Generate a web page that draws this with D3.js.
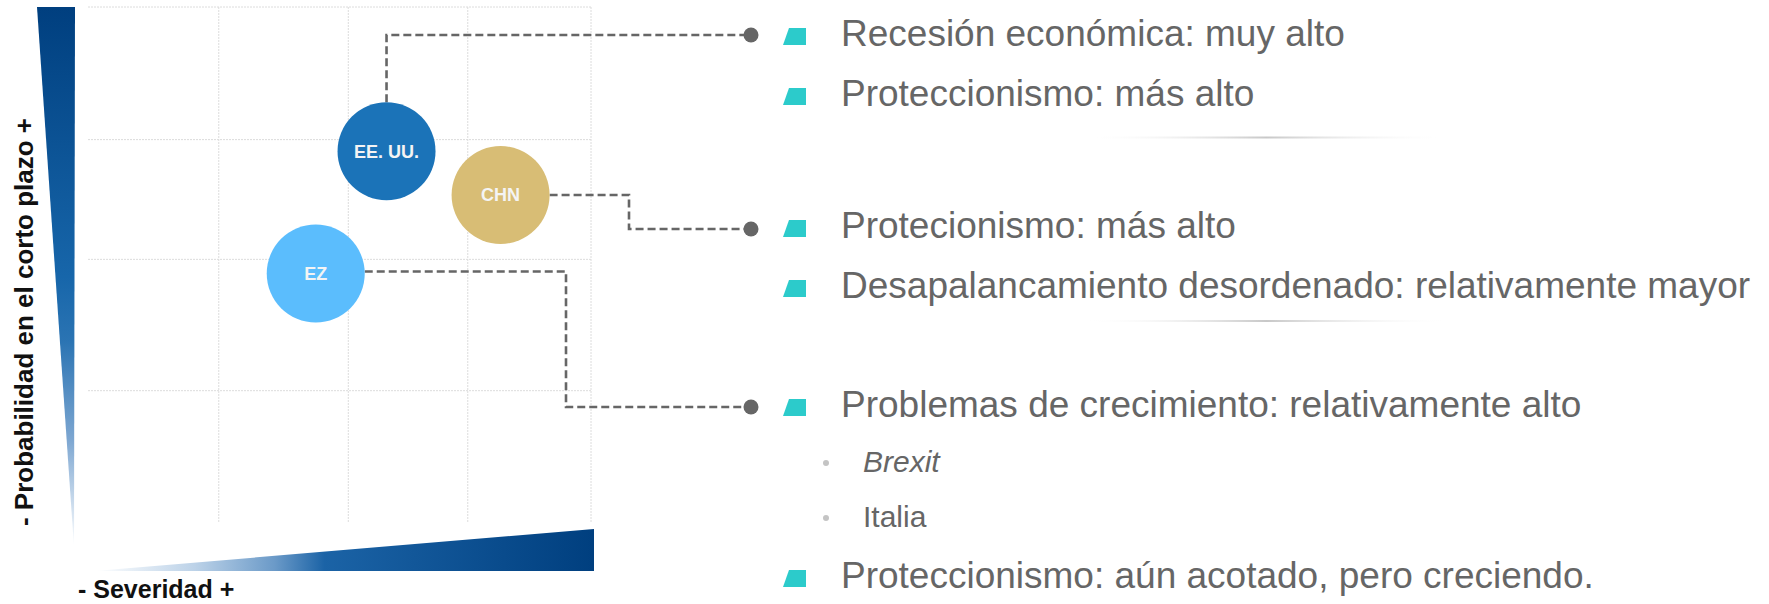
<!DOCTYPE html>
<html>
<head>
<meta charset="utf-8">
<script src="https://cdn.jsdelivr.net/npm/d3@7"></script>
<style>
  html, body { margin: 0; padding: 0; background: #fff; }
  svg { display: block; font-family: "Liberation Sans", Arial, sans-serif; }
</style>
</head>
<body>
<svg id="chart" width="1769" height="604"></svg>
<script>
// datos del mapa de riesgos (unidades de la matriz 0-4)
var paises = ["EE. UU.", "CHN", "EZ"];
var severidad = [2.374, 3.281, 1.811];
var probabilidad = [2.88, 2.54, 1.93];
var colores = ["#1b73b8", "#d8bd75", "#5bbdfd"];

// líneas de la cuadrícula
var gridX = [1.04, 2.07, 3.02, 4];
var gridY = [1.02, 2.04, 2.97, 4];

// textos de riesgos por país
var riesgosEEUU = ["Recesión económica: muy alto", "Proteccionismo: más alto"];
var riesgosCHN = ["Protecionismo: más alto", "Desapalancamiento desordenado: relativamente mayor"];
var riesgosEZ = ["Problemas de crecimiento: relativamente alto", "Proteccionismo: aún acotado, pero creciendo."];
var subRiesgosEZ = ["Brexit", "Italia"];

var svg = d3.select("#chart");

// escalas de la matriz
var x = d3.scaleLinear().domain([0, 4]).range([88, 591]);
var y = d3.scaleLinear().domain([0, 4]).range([522, 7]);

var defs = svg.append("defs");

// degradado eje vertical (probabilidad)
var gv = defs.append("linearGradient").attr("id", "gradV")
  .attr("x1", 0).attr("y1", 0).attr("x2", 0).attr("y2", 1);
[[0, "#003f7f"], [0.5, "#1766aa"], [0.62, "#2b74b3"], [0.8, "#7ca6d1"], [1, "#ffffff"]].forEach(function (s) {
  gv.append("stop").attr("offset", s[0]).attr("stop-color", s[1]);
});

// degradado eje horizontal (severidad)
var gh = defs.append("linearGradient").attr("id", "gradH")
  .attr("x1", 0).attr("y1", 0).attr("x2", 1).attr("y2", 0);
[[0, "#ffffff"], [0.2, "#bcd2e8"], [0.36, "#6b9ac8"], [0.46, "#1b63a6"], [1, "#003f7f"]].forEach(function (s) {
  gh.append("stop").attr("offset", s[0]).attr("stop-color", s[1]);
});

// degradado separadores
var gs = defs.append("linearGradient").attr("id", "gradSep")
  .attr("gradientUnits", "userSpaceOnUse")
  .attr("x1", 1083).attr("y1", 0).attr("x2", 1450).attr("y2", 0);
[[0, "#ffffff", 0], [0.5, "#c8c8c8", 1], [1, "#ffffff", 0]].forEach(function (s) {
  gs.append("stop").attr("offset", s[0]).attr("stop-color", s[1]).attr("stop-opacity", s[2]);
});

// cuadrícula
svg.append("g").selectAll("line")
  .data(gridY)
  .enter()
  .append("line")
  .attr("x1", x(0)).attr("x2", x(4))
  .attr("y1", function (d) { return y(d); })
  .attr("y2", function (d) { return y(d); })
  .attr("stroke", "#dcdcdc").attr("stroke-width", 1).attr("stroke-dasharray", "2,1");

svg.append("g").selectAll("line")
  .data(gridX)
  .enter()
  .append("line")
  .attr("x1", function (d) { return x(d); })
  .attr("x2", function (d) { return x(d); })
  .attr("y1", y(4)).attr("y2", y(0))
  .attr("stroke", "#dcdcdc").attr("stroke-width", 1).attr("stroke-dasharray", "2,1");

// triángulos de los ejes
svg.append("path")
  .attr("d", "M37," + y(4) + "L75," + y(4) + "L74,547Z")
  .attr("fill", "url(#gradV)");
svg.append("path")
  .attr("d", "M95,571L" + (x(4) + 3) + ",529L" + (x(4) + 3) + ",571Z")
  .attr("fill", "url(#gradH)");

// títulos de los ejes
svg.append("text")
  .attr("transform", "translate(33,322) rotate(-90)")
  .attr("text-anchor", "middle")
  .attr("font-size", 26).attr("font-weight", "bold").attr("fill", "#111")
  .text("- Probabilidad en el corto plazo +");
svg.append("text")
  .attr("x", 78).attr("y", 598)
  .attr("font-size", 25).attr("font-weight", "bold").attr("fill", "#111")
  .text("- Severidad +");

// posiciones de las líneas de texto (líneas base)
var textX = 841;
var bloques = [
  { items: riesgosEEUU.map(function (t, i) { return { t: t, b: [46, 106][i] }; }) },
  { items: riesgosCHN.map(function (t, i) { return { t: t, b: [238, 298][i] }; }) },
  { items: riesgosEZ.map(function (t, i) { return { t: t, b: [417, 588][i] }; }) }
];

// conectores punteados
var r = 49;
var dotX = 751;
var dotY = [35, 229, 407];
var conectores = [
  function (i) {
    var cx = x(severidad[i]), cy = y(probabilidad[i]);
    return [[cx, cy - r], [cx, dotY[i]], [dotX, dotY[i]]];
  },
  function (i) {
    var cx = x(severidad[i]), cy = y(probabilidad[i]);
    return [[cx + r, cy], [629, cy], [629, dotY[i]], [dotX, dotY[i]]];
  },
  function (i) {
    var cx = x(severidad[i]), cy = y(probabilidad[i]);
    return [[cx + r, cy - 2], [566, cy - 2], [566, dotY[i]], [dotX, dotY[i]]];
  }
];
svg.append("g").selectAll("path")
  .data(paises)
  .enter()
  .append("path")
  .attr("d", function (d, i) { return d3.line()(conectores[i](i)); })
  .attr("fill", "none")
  .attr("stroke", "#666").attr("stroke-width", 2.6).attr("stroke-dasharray", "8,4");

svg.append("g").selectAll("circle")
  .data(dotY)
  .enter()
  .append("circle")
  .attr("cx", dotX).attr("cy", function (d) { return d; })
  .attr("r", 7.5).attr("fill", "#666");

// burbujas de países
var burbujas = svg.append("g").selectAll("g")
  .data(paises)
  .enter()
  .append("g")
  .attr("transform", function (d, i) { return "translate(" + x(severidad[i]) + "," + y(probabilidad[i]) + ")"; });
burbujas.append("circle")
  .attr("r", r)
  .attr("fill", function (d, i) { return colores[i]; });
burbujas.append("text")
  .attr("text-anchor", "middle").attr("dy", 6.5)
  .attr("font-size", 18).attr("font-weight", "bold").attr("fill", "#f4f4f4")
  .text(function (d) { return d; });

// textos con viñetas
var filas = [];
bloques.forEach(function (b) { b.items.forEach(function (it) { filas.push(it); }); });

svg.append("g").selectAll("path")
  .data(filas)
  .enter()
  .append("path")
  .attr("d", function (d) { return "M789," + (d.b - 18) + "L806," + (d.b - 18) + "L806," + (d.b - 1) + "L783," + (d.b - 1) + "Z"; })
  .attr("fill", "#2ccbcb");

svg.append("g").selectAll("text")
  .data(filas)
  .enter()
  .append("text")
  .attr("x", textX).attr("y", function (d) { return d.b; })
  .attr("font-size", 37).attr("fill", "#666")
  .text(function (d) { return d.t; });

// sub-viñetas de la zona euro
var subB = [472, 527];
svg.append("g").selectAll("circle")
  .data(subRiesgosEZ)
  .enter()
  .append("circle")
  .attr("cx", 826).attr("cy", function (d, i) { return subB[i] - 9; })
  .attr("r", 3).attr("fill", "#c4c4c4");
svg.append("g").selectAll("text")
  .data(subRiesgosEZ)
  .enter()
  .append("text")
  .attr("x", 863).attr("y", function (d, i) { return subB[i]; })
  .attr("font-size", 30).attr("fill", "#666")
  .attr("font-style", function (d, i) { return i === 0 ? "italic" : "normal"; })
  .text(function (d) { return d; });

// separadores
svg.append("g").selectAll("rect")
  .data([137.5, 321])
  .enter()
  .append("rect")
  .attr("x", 1083).attr("width", 367)
  .attr("y", function (d) { return d - 1; }).attr("height", 2)
  .attr("fill", "url(#gradSep)");
</script>
</body>
</html>
